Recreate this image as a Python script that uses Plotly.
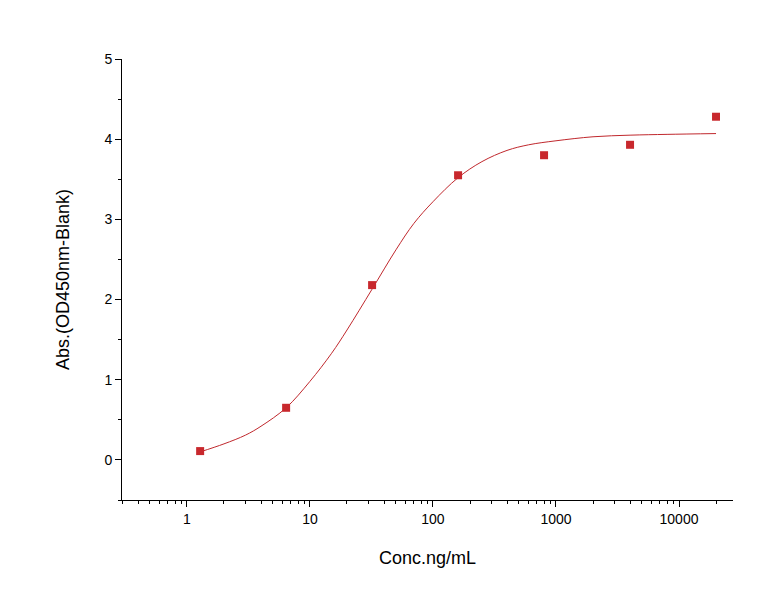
import plotly.graph_objects as go

conc = [1.28, 6.4, 32, 160, 800, 4000, 20000]
od = [0.11, 0.65, 2.18, 3.55, 3.80, 3.93, 4.28]

fit_x = [1.28, 2, 3, 4, 6.4, 10, 15, 20, 32, 50, 70, 100, 160, 250, 400, 600, 1000, 2000, 4000, 8000, 20000]
fit_y = [0.10, 0.20, 0.31, 0.42, 0.65, 0.98, 1.33, 1.62, 2.13, 2.62, 2.95, 3.22, 3.52, 3.72, 3.86, 3.93, 3.98, 4.03, 4.05, 4.06, 4.07]

fig = go.Figure()
fig.add_trace(go.Scatter(x=fit_x, y=fit_y, mode="lines", line=dict(color="#c0282d", width=1, shape="spline"), showlegend=False))
fig.add_trace(go.Scatter(x=conc, y=od, mode="markers", marker=dict(symbol="square", size=8, color="#c8282d"), showlegend=False))

ax = dict(showgrid=False, zeroline=False, showline=True, linecolor="black", linewidth=1, automargin=False,
          ticks="outside", ticklen=6, tickcolor="black", tickfont=dict(size=14, color="black"))
fig.update_layout(
    width=757, height=611, plot_bgcolor="white", paper_bgcolor="white",
    margin=dict(l=114, r=32, t=51, b=119),
    font=dict(family="Liberation Sans, Arial, sans-serif", color="black"),
    xaxis=dict(type="log", range=[-0.528, 4.439], dtick=1, tickformat="d",
               minor=dict(ticks="outside", ticklen=3, tickcolor="black", dtick="D1", showgrid=False),
               title=dict(text="Conc.ng/mL", font=dict(size=18), standoff=25), **ax),
    yaxis=dict(range=[-0.5, 5], tickvals=[0, 1, 2, 3, 4, 5],
               minor=dict(ticks="outside", ticklen=3, tickcolor="black", dtick=0.5, showgrid=False),
               title=dict(text="Abs.(OD450nm-Blank)", font=dict(size=18), standoff=30), **ax),
)
fig.write_html("out.html")
